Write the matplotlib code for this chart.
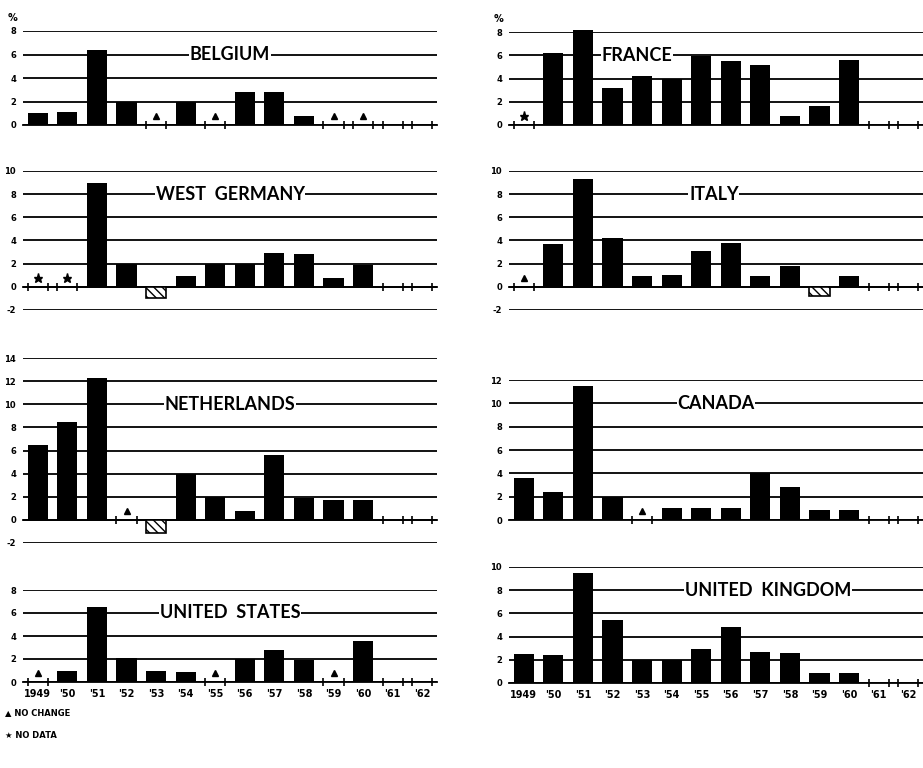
import matplotlib.pyplot as plt
import numpy as np

# yearly % change, 'NC' = no change, 'ND' = no data
years = list(range(1949, 1961))
axis_years = list(range(1949, 1963))
year_labels = ["1949", "'50", "'51", "'52", "'53", "'54", "'55", "'56",
               "'57", "'58", "'59", "'60", "'61", "'62"]

belgium = [1.0, 1.1, 6.4, 2.0, 'NC', 2.0, 'NC', 2.8, 2.8, 0.8, 'NC', 'NC']
france = ['ND', 6.2, 8.2, 3.2, 4.2, 4.0, 5.9, 5.5, 5.2, 0.8, 1.6, 5.6]
west_germany = ['ND', 'ND', 9.0, 2.0, -1.0, 0.9, 2.0, 2.0, 2.9, 2.8, 0.8, 1.9]
italy = ['NC', 3.7, 9.3, 4.2, 0.9, 1.0, 3.1, 3.8, 0.9, 1.8, -0.8, 0.9]
netherlands = [6.5, 8.5, 12.3, 'NC', -1.1, 4.0, 2.0, 0.8, 5.6, 1.9, 1.7, 1.7]
canada = [3.6, 2.4, 11.5, 2.0, 'NC', 1.0, 1.0, 1.0, 4.0, 2.8, 0.9, 0.9]
united_states = ['NC', 1.0, 6.5, 2.1, 1.0, 0.9, 'NC', 2.0, 2.8, 1.9, 'NC', 3.6]
united_kingdom = [2.5, 2.4, 9.5, 5.4, 2.0, 2.0, 2.9, 4.8, 2.7, 2.6, 0.9, 0.9]

W, H = 923, 768
fig = plt.figure(figsize=(W / 100, H / 100), dpi=100)

# name, values, ymin, ymax, title x (axes frac), title y (data),
# left px, top px, bottom px, % label, x labels
panels = [
    ("BELGIUM", belgium, 0, 8, 0.5, 6, 23, 31, 125, True, False),
    ("FRANCE", france, 0, 8, 0.31, 6, 509, 32, 125, True, False),
    ("WEST  GERMANY", west_germany, -2, 10, 0.5, 8, 23, 171, 310, False, False),
    ("ITALY", italy, -2, 10, 0.495, 8, 509, 171, 310, False, False),
    ("NETHERLANDS", netherlands, -2, 14, 0.5, 10, 23, 358, 543, False, False),
    ("CANADA", canada, 0, 12, 0.5, 10, 509, 380, 520, False, False),
    ("UNITED  STATES", united_states, 0, 8, 0.5, 6, 23, 590, 682, False, True),
    ("UNITED  KINGDOM", united_kingdom, 0, 10, 0.625, 8, 509, 567, 683, False, True),
]

for name, vals, ymin, ymax, tx, ty, lpx, tpx, bpx, pct, xlab in panels:
    ax = fig.add_axes([lpx / W, 1 - bpx / H, 414 / W, (bpx - tpx) / H])
    ax.set_xlim(1948.5, 1962.5)
    ax.set_ylim(ymin, ymax)

    empty = []
    for yr, v in zip(years, vals):
        if v == 'NC':
            ax.plot(yr, 0.75, marker='^', color='black', ms=5, zorder=4)
            empty.append(yr)
        elif v == 'ND':
            ax.plot(yr, 0.75, marker='*', color='black', ms=6.5, zorder=4)
            empty.append(yr)
        elif v < 0:
            ax.bar(yr, v, width=0.68, color='white', edgecolor='black',
                   hatch='\\\\\\\\', linewidth=1.2, zorder=3)
        else:
            ax.bar(yr, v, width=0.68, color='black', linewidth=0,
                   zorder=3, clip_on=False)
    empty += [yr for yr in axis_years if yr not in years]

    ticks = np.arange(ymin, ymax + 1, 2)
    ax.set_yticks(ticks)
    ax.set_yticklabels([str(t) for t in ticks], fontsize=6, fontweight='bold')
    ax.yaxis.grid(True, color='black', linewidth=1.3)
    ax.tick_params(axis='y', length=0, pad=5)
    ax.set_axisbelow(True)

    for s in ['top', 'right', 'left']:
        ax.spines[s].set_visible(False)
    ax.spines['bottom'].set_position(('data', 0))
    ax.spines['bottom'].set_linewidth(1.3)

    ax.set_xticks(axis_years)
    ax.set_xticks([e + d for e in empty for d in (-0.34, 0.34)], minor=True)
    ax.tick_params(axis='x', which='major', length=0, pad=5)
    ax.tick_params(axis='x', which='minor', length=6, direction='inout', width=1.2)
    if xlab:
        ax.set_xticklabels(year_labels, fontsize=7, fontweight='bold')
    else:
        ax.set_xticklabels([])

    ax.text(tx, ty, name, transform=ax.get_yaxis_transform(), ha='center', va='center',
            fontsize=13, fontweight='bold', family='Lato', zorder=5,
            bbox=dict(facecolor='white', edgecolor='none', pad=0.5))
    if pct:
        ax.text(-0.025, ymax + 1.1, "%", transform=ax.get_yaxis_transform(),
                ha='center', va='center', fontsize=7, fontweight='bold')

fig.text(5 / W, 1 - 713 / H, "\u25B2 NO CHANGE", fontsize=6, fontweight='bold', va='center')
fig.text(5 / W, 1 - 735 / H, "\u2605 NO DATA", fontsize=6, fontweight='bold', va='center')

fig.savefig("out.png", dpi=100)
